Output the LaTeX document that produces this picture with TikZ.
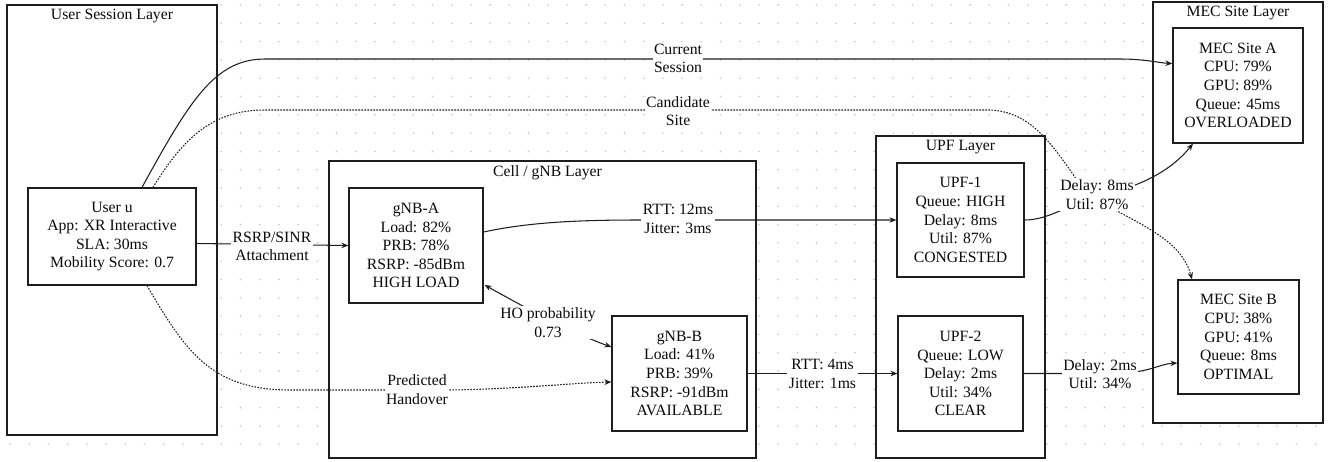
\documentclass[tikz,border=0pt]{standalone}
\usepackage{fontspec}
\setmainfont{Liberation Serif}
\usetikzlibrary{arrows.meta,calc}
\definecolor{linec}{RGB}{30,30,30}
\definecolor{gridc}{RGB}{200,200,200}
\definecolor{textc}{RGB}{10,10,10}
\tikzset{
  every node/.style={font=\fontsize{15.7}{18.6}\selectfont, text=textc},
  layerbox/.style={draw=linec, line width=1.2pt, fill=white, inner sep=0pt},
  infobox/.style={draw=linec, line width=1.2pt, fill=white, align=center, inner sep=0pt},
  layertitle/.style={inner sep=0pt, anchor=north},
  tip/.style={-{Stealth[length=7pt,width=5.5pt]}},
  flow/.style={draw=linec, line width=1.05pt, tip},
  dotflow/.style={flow, dash pattern=on 1.6pt off 1.4pt},
  tag/.style={fill=white, align=center, inner sep=1.5pt},
}
\begin{document}
\begin{tikzpicture}[x=1pt,y=-1pt]
\useasboundingbox (0,0) rectangle (1328,461);
\fill[white] (0,0) rectangle (1328,461);

% dotted background grid
\foreach \i in {0,...,68}{
  \foreach \j in {0,...,24}{
    \fill[gridc] ({10.1+19.2*\i},{5+18.3*\j}) circle[radius=0.9pt];
  }
}

% layer containers
\node[layerbox, minimum width=210, minimum height=430] (userL) at (112,220) {};
\node[layerbox, minimum width=427, minimum height=297] (cellL) at (542.5,309.5) {};
\node[layerbox, minimum width=169, minimum height=322] (upfL) at (960.5,297) {};
\node[layerbox, minimum width=170, minimum height=421] (mecL) at (1238,212.5) {};

\node[layertitle] (userLt) at ($(userL.north)+(0,5)$) {User Session Layer};
\node[layertitle] (cellLt) at ($(cellL.north)+(5,5)$) {Cell / gNB Layer};
\node[layertitle] (upfLt) at ($(upfL.north)+(0,5)$) {UPF Layer};
\node[layertitle] (mecLt) at ($(mecL.north)+(0,5)$) {MEC Site Layer};

% entities
\node[infobox, minimum width=168, minimum height=97] (user) at (112,236.5)
  {User u\\App: XR Interactive\\SLA: 30ms\\Mobility Score: 0.7};
\node[infobox, minimum width=134, minimum height=115] (gnbA) at (416,245.5)
  {gNB-A\\Load: 82\%\\PRB: 78\%\\RSRP: -85dBm\\HIGH LOAD};
\node[infobox, minimum width=135, minimum height=115] (gnbB) at (679.5,373.5)
  {gNB-B\\Load: 41\%\\PRB: 39\%\\RSRP: -91dBm\\AVAILABLE};
\node[infobox, minimum width=127, minimum height=114] (upf1) at (960.5,220)
  {UPF-1\\Queue: HIGH\\Delay: 8ms\\Util: 87\%\\CONGESTED};
\node[infobox, minimum width=125, minimum height=115] (upf2) at (960.5,373.5)
  {UPF-2\\Queue: LOW\\Delay: 2ms\\Util: 34\%\\CLEAR};
\node[infobox, minimum width=130, minimum height=115] (mecA) at (1238,85.5)
  {MEC Site A\\CPU: 79\%\\GPU: 89\%\\Queue: 45ms\\OVERLOADED};
\node[infobox, minimum width=121, minimum height=114] (mecB) at (1238.5,337)
  {MEC Site B\\CPU: 38\%\\GPU: 41\%\\Queue: 8ms\\OPTIMAL};

% connectors
\draw[flow] ($(user.north)+(30,0)$) .. controls (190,100) and (215,59) .. (265,59)
  -- (1120,59) .. controls (1145,59) and (1160,63) .. ($(mecA.west)+(0,-22)$);
\draw[dotflow] ($(user.north)+(41,0)$) .. controls (185,135) and (215,110) .. (265,110)
  -- (990,110) .. controls (1030,112) and (1050,140) .. (1085,192)
  .. controls (1130,222) and (1180,235) .. ($(mecB.north)+(-46.5,0)$);
\draw[flow] (upf1.east) .. controls (1050,220) and (1070,203) .. (1100,196)
  .. controls (1140,186) and (1170,172) .. ($(mecA.south)+(-45,0)$);
\draw[flow] ($(user.east)+(0,7)$) -- (gnbA.west);
\draw[flow] ($(gnbA.east)+(0,-13.5)$) .. controls (530,222) and (580,220) .. (640,220) -- (upf1.west);
\draw[flow] (gnbB.east) -- (upf2.west);
\draw[flow] (upf2.east) -- (1110,373.5) .. controls (1150,373.5) and (1158,364) .. ($(mecB.west)+(0,26)$);
\draw[flow, {Stealth[length=7pt,width=5.5pt]}-{Stealth[length=7pt,width=5.5pt]}]
  ($(gnbA.east)+(1,39.5)$) .. controls (524,307) and (572,333) .. ($(gnbB.west)+(0,-26.5)$);
\draw[dotflow] ($(user.south)+(35,0)$) .. controls (185,350) and (210,390) .. (290,390)
  -- (450,390) .. controls (520,389) and (570,383) .. ($(gnbB.west)+(0,8.5)$);

% connector labels
\node[tag] (lblCur) at (678,58.5) {Current\\Session};
\node[tag] (lblCand) at (678,111) {Candidate\\Site};
\node[tag] (lblRsrp) at (272,246.5) {RSRP/SINR\\Attachment};
\node[tag] (lblRtt1) at (678,219) {RTT: 12ms\\Jitter: 3ms};
\node[tag] (lblHo) at (548,322.5) {HO probability\\0.73};
\node[tag] (lblPred) at (417,389.5) {Predicted\\Handover};
\node[tag] (lblRtt2) at (822.5,374) {RTT: 4ms\\Jitter: 1ms};
\node[tag] (lblU1) at (1097,194.5) {Delay: 8ms\\Util: 87\%};
\node[tag] (lblU2) at (1100,374) {Delay: 2ms\\Util: 34\%};
\end{tikzpicture}
\end{document}
